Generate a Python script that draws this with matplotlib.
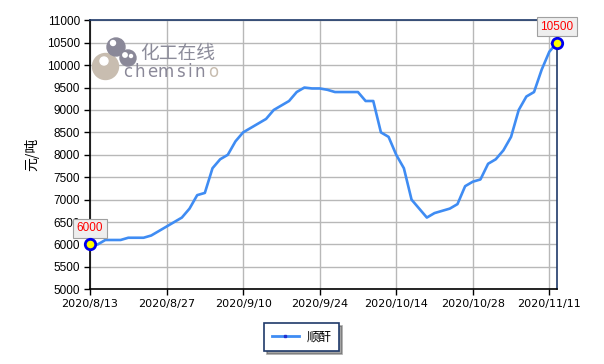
import matplotlib
matplotlib.use("Agg")
import matplotlib.pyplot as plt
from matplotlib.patches import Ellipse
from matplotlib.lines import Line2D

plt.rcParams['font.family'] = ['Liberation Sans', 'Noto Sans CJK SC', 'DejaVu Sans']

# trading days (incl. weekend make-up days)
dates = ["2020/8/13", "2020/8/14", "2020/8/17", "2020/8/18", "2020/8/19",
         "2020/8/20", "2020/8/21", "2020/8/24", "2020/8/25", "2020/8/26",
         "2020/8/27", "2020/8/28", "2020/8/31", "2020/9/1", "2020/9/2",
         "2020/9/3", "2020/9/4", "2020/9/7", "2020/9/8", "2020/9/9",
         "2020/9/10", "2020/9/11", "2020/9/14", "2020/9/15", "2020/9/16",
         "2020/9/17", "2020/9/18", "2020/9/21", "2020/9/22", "2020/9/23",
         "2020/9/24", "2020/9/25", "2020/9/27", "2020/9/28", "2020/9/29",
         "2020/9/30", "2020/10/9", "2020/10/10", "2020/10/12", "2020/10/13",
         "2020/10/14", "2020/10/15", "2020/10/16", "2020/10/19", "2020/10/20",
         "2020/10/21", "2020/10/22", "2020/10/23", "2020/10/26", "2020/10/27",
         "2020/10/28", "2020/10/29", "2020/10/30", "2020/11/2", "2020/11/3",
         "2020/11/4", "2020/11/5", "2020/11/6", "2020/11/9", "2020/11/10",
         "2020/11/11", "2020/11/12"]

prices = [6000, 6000, 6100, 6100, 6100, 6150, 6150, 6150, 6200, 6300,
          6400, 6500, 6600, 6800, 7100, 7150, 7700, 7900, 8000, 8300,
          8500, 8600, 8700, 8800, 9000, 9100, 9200, 9400, 9500, 9480,
          9480, 9450, 9400, 9400, 9400, 9400, 9200, 9200, 8500, 8400,
          8000, 7700, 7000, 6800, 6600, 6700, 6750, 6800, 6900, 7300,
          7400, 7450, 7800, 7900, 8100, 8400, 9000, 9300, 9400, 9900,
          10300, 10500]

series_name = "顺酐"
y_label = "元/吨"
y_ticks = list(range(5000, 11001, 500))
label_step = 10

W, H = 604, 364
fig = plt.figure(figsize=(W/100, H/100), dpi=100)
ax = fig.add_axes([90/W, 1-289.3/H, (557-90)/W, (289.3-20.3)/H])

def px(x, y):    # pixel position -> figure fraction
    return x/W, 1-y/H

x = list(range(len(prices)))
line_c = '#3f8cf3'
ax.plot(x, prices, color=line_c, lw=1.9, zorder=3)

# end point markers + value boxes
for i in (0, len(prices)-1):
    ax.plot(x[i], prices[i], 'o', ms=7.5, mfc='yellow', mec='#0000ee', mew=2,
            clip_on=False, zorder=5)
    ax.annotate(str(prices[i]), (x[i], prices[i]), xytext=(0, 16),
                textcoords='offset pixels', ha='center', va='center',
                color='red', fontsize=8.5,
                bbox=dict(boxstyle='square,pad=0.3', fc='#eeeeee', ec='#a0a0a0', lw=0.8),
                zorder=4, annotation_clip=False)

ax.set_xlim(0, len(prices)-1)
ax.set_ylim(5000, 11000)
ax.set_yticks(y_ticks)
ax.set_yticklabels([str(v) for v in y_ticks], fontsize=8.5)
ticks = list(range(0, len(dates), label_step))
ax.set_xticks(ticks)
ax.set_xticklabels([dates[i] for i in ticks], fontsize=8, family='DejaVu Sans')
ax.tick_params(direction='out', length=4, width=1, colors='black', pad=3)
ax.grid(True, color='#b8b8b8', lw=1)
ax.set_axisbelow(True)

for s in ('left', 'bottom'):
    ax.spines[s].set_color('black')
    ax.spines[s].set_linewidth(1.2)
for s in ('top', 'right'):
    ax.spines[s].set_color('#1f3a6a')
    ax.spines[s].set_linewidth(1.2)

ax.set_ylabel(y_label, fontsize=10, family=['Noto Sans CJK SC', 'DejaVu Sans'], labelpad=6)

# watermark logo
for cx, cy, r, c in [(105.5, 66.5, 13, '#c8bdb0'), (116, 47, 9, '#8a8898'), (128, 58, 8, '#8a8898')]:
    fig.add_artist(Ellipse(px(cx, cy), 2*r/W, 2*r/H, color=c, zorder=1))
for cx, cy, r in [(104, 61, 4), (113, 43, 2.5), (125, 55, 2.2), (131, 56, 1.5)]:
    fig.add_artist(Ellipse(px(cx, cy), 2*r/W, 2*r/H, color='white', zorder=1))
fig.text(*px(140, 53), "化工在线", fontsize=13.5, color='#8c8c9a', va='center',
         family=['Noto Sans CJK SC', 'DejaVu Sans'], zorder=1)
letter_x = [128, 140, 152, 165.5, 180.5, 190, 200, 213]
for k, ch in enumerate("chemsino"):
    fig.text(*px(letter_x[k], 72), ch, fontsize=12, ha='center', va='center',
             color='#c8bdb0' if k == 7 else '#8a8898', family='DejaVu Sans', zorder=1)

handle = Line2D([], [], color=line_c, lw=2, marker='s', ms=1.5,
                mfc='#2030d0', mec='#2030d0')
leg = fig.legend([handle], [series_name], loc='center', bbox_to_anchor=px(301.5, 337),
                 fancybox=False, shadow=True, framealpha=1, edgecolor='#1f3a6a',
                 prop={'family': ['Noto Sans CJK SC', 'DejaVu Sans'], 'size': 9},
                 handlelength=2.2, borderpad=0.6, handletextpad=0.6)
leg.get_frame().set_linewidth(1.2)

fig.savefig("out.png", dpi=100)
